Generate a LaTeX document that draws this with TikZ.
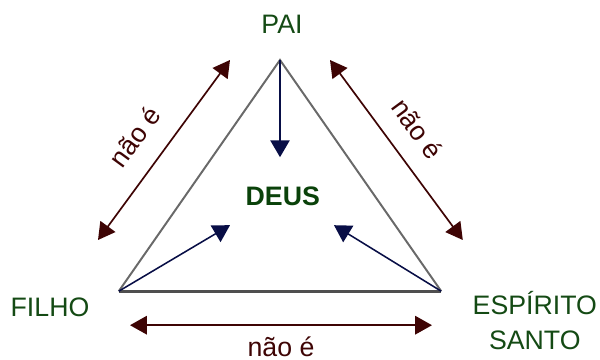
\documentclass[tikz,border=0pt]{standalone}
\usepackage{fontspec}
\setmainfont{Liberation Sans}
\usepackage{tikz}
\usetikzlibrary{arrows.meta,positioning}
\definecolor{namegreen}{RGB}{20,74,20}
\definecolor{deusgreen}{RGB}{10,66,10}
\definecolor{negred}{RGB}{62,4,4}
\definecolor{flowblue}{RGB}{8,14,70}
\definecolor{sidegray}{RGB}{105,105,105}

\begin{document}
\begin{tikzpicture}[
 person/.style={text=namegreen,font=\fontsize{19}{25}\selectfont,inner sep=0pt},
 side/.style={sidegray,line width=1.4pt},
 base/.style={sidegray!75!black,line width=2.3pt},
 flow/.style={-{Triangle[length=4.2mm,width=4.8mm]},flowblue,line width=1.1pt},
 neg/.style={{Triangle[length=4.2mm,width=4.6mm]}-{Triangle[length=4.2mm,width=4.6mm]},negred,line width=1.2pt},
 lbl/.style={text=negred,font=\fontsize{19}{22}\selectfont,inner sep=1pt}
]
\useasboundingbox (0,0) rectangle (15,9);
% vertices of the triangle
\coordinate (top) at (7.0,7.5);
\coordinate (left) at (2.97,1.72);
\coordinate (right) at (11.03,1.72);
\node[person] (pai) at (7.05,8.38) {PAI};
\node[person] (filho) at (1.25,1.32) {FILHO};
\node[person,align=center] (esp) at (13.37,0.98) {ESPÍRITO\\SANTO};
\node[person,text=deusgreen,font=\fontsize{19}{25}\selectfont\bfseries] (deus) at (7.07,4.1) {DEUS};
\draw[side] (left) -- (top) -- (right);
\draw[base] (left) -- (right);
% arrows into the centre
\coordinate (tipP) at (7.0,5.07);
\coordinate (tipF) at (5.75,3.37);
\coordinate (tipE) at (8.35,3.37);
\draw[flow] (top) -- (tipP);
\draw[flow] (left) -- (tipF);
\draw[flow] (right) -- (tipE);
% double arrows outside
\coordinate (nl1) at (2.45,3.0);
\coordinate (nl2) at (5.75,7.5);
\coordinate (nr1) at (8.25,7.5);
\coordinate (nr2) at (11.57,3.0);
\coordinate (nb1) at (3.25,0.87);
\coordinate (nb2) at (10.8,0.87);
\draw[neg] (nl1) -- node[lbl,sloped,above=0.48cm,pos=0.47] (labl) {não é} (nl2);
\draw[neg] (nr1) -- node[lbl,sloped,above=0.44cm,pos=0.48] (labr) {não é} (nr2);
\draw[neg] (nb1) -- node[lbl,below=0.24cm] (labb) {não é} (nb2);
\end{tikzpicture}
\end{document}
